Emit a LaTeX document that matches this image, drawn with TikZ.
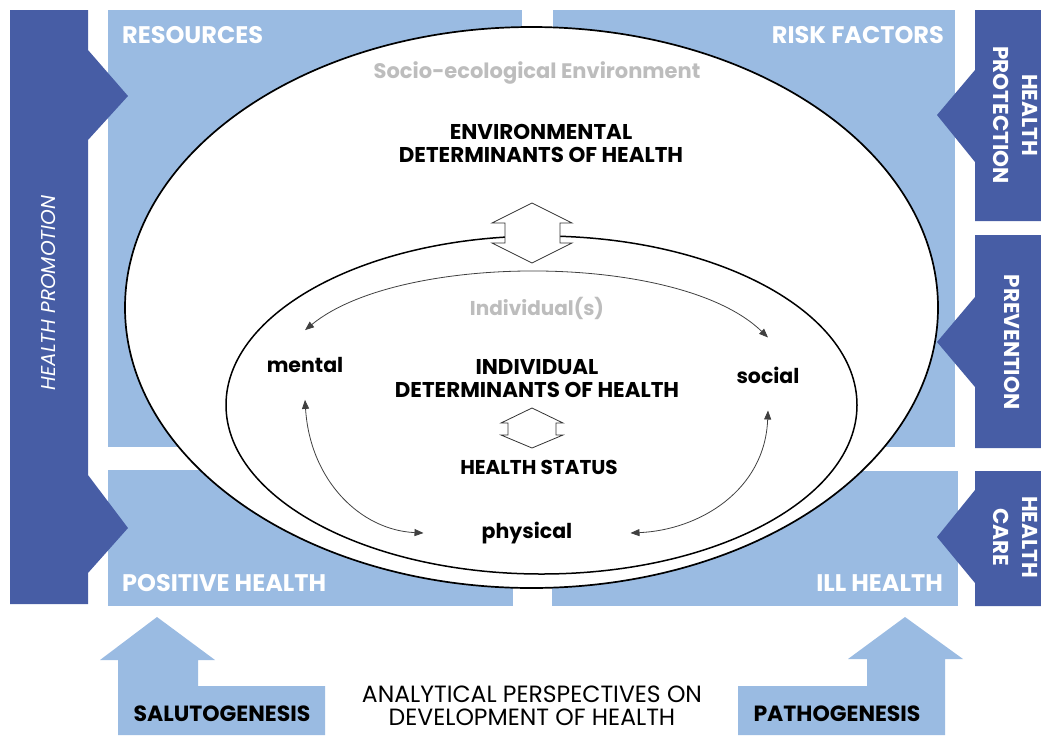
\documentclass[tikz,border=0pt]{standalone}
\usepackage{fontspec}
\setmainfont{Poppins}
\usetikzlibrary{arrows.meta,calc}
\definecolor{lightblue}{HTML}{9ABBE2}
\definecolor{darkblue}{HTML}{475DA5}
\definecolor{grayTxt}{HTML}{BDBDBD}
\tikzset{
  quad/.style={fill=lightblue,draw=none},
  bar/.style={fill=darkblue,draw=none},
  qlabel/.style={text=white,font=\fontsize{24}{26}\selectfont\bfseries,inner sep=0pt},
  barlabel/.style={text=white,font=\fontsize{21.5}{29}\selectfont\bfseries,inner sep=0pt,align=center},
  ctext/.style={text=black,font=\fontsize{21.4}{23}\selectfont\bfseries,inner sep=0pt,align=center},
  gtext/.style={text=grayTxt,font=\fontsize{21}{22}\selectfont\bfseries,inner sep=0pt},
  dim/.style={text=black,font=\fontsize{20.5}{22}\selectfont\bfseries,inner sep=0pt},
  btext/.style={text=black,font=\fontsize{22}{24}\selectfont\bfseries,inner sep=0pt},
  ptext/.style={text=black,font=\fontsize{23.5}{23.5}\selectfont,inner sep=0pt,align=center},
  ell/.style={draw=black,line width=1.7pt},
  dblarrow/.style={fill=white,draw=black!80,line width=0.8pt,line join=miter},
  link/.style={draw=black!75,line width=0.8pt,{Triangle[length=9pt,width=7pt]}-{Triangle[length=9pt,width=7pt]}},
  uparrow/.style={fill=lightblue,draw=none}
}
\begin{document}
\begin{tikzpicture}[x=1pt,y=-1pt]
\useasboundingbox (0,0) rectangle (1041,737);
% quadrants
\path[quad] (108,10) rectangle (522,447);
\path[quad] (553,10) rectangle (955,447);
\path[quad] (108,470) rectangle (513,606);
\path[quad] (552,471) rectangle (958,606);
% left bar
\path[bar] (10,10) -- (88,10) -- (88,50) -- (128,96) -- (88,140) -- (88,475) -- (128,528) -- (88,573) -- (88,604) -- (10,604) -- cycle;
% right bars
\path[bar] (1041,10) -- (975,10) -- (975,70) -- (937,115) -- (975,162) -- (975,221) -- (1041,221) -- cycle;
\path[bar] (1041,235) -- (975,235) -- (975,297) -- (937,342) -- (975,387) -- (975,448) -- (1041,448) -- cycle;
\path[bar] (1041,471) -- (975,471) -- (975,490) -- (937,537) -- (975,583) -- (975,606) -- (1041,606) -- cycle;
% ellipses
\draw[ell,fill=white] (531.5,307.5) ellipse [x radius=406.5pt, y radius=280.5pt];
\draw[ell,line width=1.5pt] (541.5,405) ellipse [x radius=315.5pt, y radius=169pt];
% double arrows
\draw[dblarrow] (532,203) -- (572,223) -- (560,223) -- (560,243) -- (572,243) -- (532,263) -- (492,243) -- (505,243) -- (505,223) -- (492,223) -- cycle;
\draw[dblarrow] (532,408) -- (563,423) -- (556,423) -- (556,435) -- (563,435) -- (532,448) -- (501,435) -- (508,435) -- (508,423) -- (501,423) -- cycle;
% quadrant labels
\node[qlabel,anchor=west] (res) at (122,35) {RESOURCES};
\node[qlabel,anchor=east] (risk) at (944,35) {RISK FACTORS};
\node[qlabel,anchor=west] (pos) at (122,583) {POSITIVE HEALTH};
\node[qlabel,anchor=east] (ill) at (943,583) {ILL HEALTH};
% bar labels
\node[text=white,font=\fontsize{20}{22}\selectfont\itshape,inner sep=0pt,rotate=90] (hpro) at (49,293) {HEALTH PROMOTION};
\node[barlabel,rotate=-90] (hprot) at (1015,115) {HEALTH\\PROTECTION};
\node[barlabel,rotate=-90] (prev) at (1012,342) {PREVENTION};
\node[barlabel,rotate=-90] (hcare) at (1015,537) {HEALTH\\CARE};
% centre texts
\node[gtext] (socio) at (537,73) {Socio-ecological Environment};
\node[ctext] (env) at (541,143) {ENVIRONMENTAL\\DETERMINANTS OF HEALTH};
\node[gtext,font=\fontsize{20}{22}\selectfont\bfseries] (indiv) at (537,308) {Individual(s)};
\node[ctext] (idet) at (537,379) {INDIVIDUAL\\DETERMINANTS OF HEALTH};
\node[ctext,font=\fontsize{20}{22}\selectfont\bfseries] (hstat) at (539,467) {HEALTH STATUS};
\node[dim] (mental) at (305,365) {mental};
\node[dim] (social) at (768,375) {social};
\node[dim] (physical) at (527,533) {physical};
% links
\draw[link] ([yshift=27pt]mental.north) .. controls (400,252) and (680,252) .. ([yshift=29pt]social.north);
\draw[link] ([yshift=-27pt]mental.south) .. controls (310,480) and (360,530) .. ([xshift=-58pt]physical.west);
\draw[link] ([yshift=-27pt]social.south) .. controls (765,490) and (700,530) .. ([xshift=58pt]physical.east);
% bottom arrows
\path[uparrow] (118,735) -- (118,660) -- (100,660) -- (157,617) -- (215,660) -- (198,660) -- (198,686) -- (325,686) -- (325,735) -- cycle;
\path[uparrow] (945,735) -- (945,659) -- (963,659) -- (905,617) -- (848,659) -- (867,659) -- (867,686) -- (738,686) -- (738,735) -- cycle;
\node[btext] (salu) at (222,714) {SALUTOGENESIS};
\node[btext] (patho) at (837,714) {PATHOGENESIS};
\node[ptext] (persp) at (532,706) {ANALYTICAL PERSPECTIVES ON\\DEVELOPMENT OF HEALTH};
\end{tikzpicture}
\end{document}
